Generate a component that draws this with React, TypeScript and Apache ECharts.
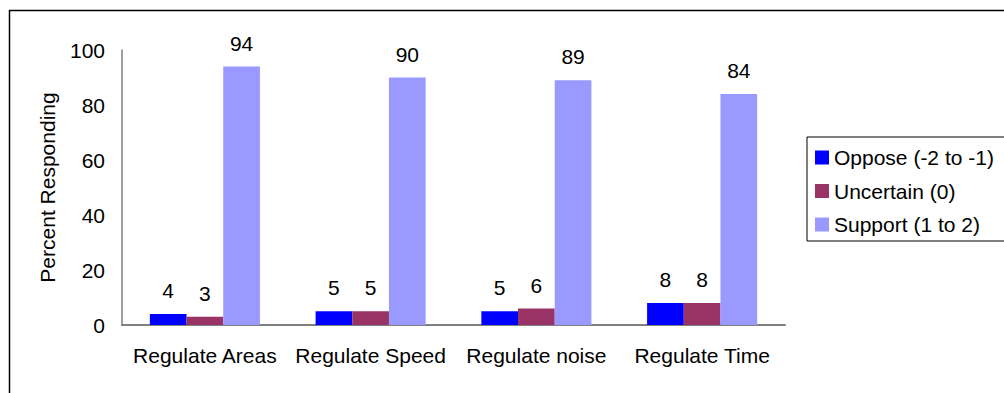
import React, { useEffect, useRef } from "react";
import * as echarts from "echarts";

const categories = ["Regulate Areas", "Regulate Speed", "Regulate noise", "Regulate Time"];
const opposeValues = [4, 5, 5, 8];
const uncertainValues = [3, 5, 6, 8];
const supportValues = [94, 90, 89, 84];
const seriesNames = ["Oppose (-2 to -1)", "Uncertain (0)", "Support (1 to 2)"];
const seriesColors = ["#0000FF", "#993366", "#9999FF"];

const FONT = "Liberation Sans, Arial, sans-serif";
const FONT_SIZE = 21;

export default function App() {
  const ref = useRef<HTMLDivElement>(null);

  useEffect(() => {
    if (!ref.current) return;
    const chart = echarts.init(ref.current, undefined, { renderer: "svg" });
    const values = [opposeValues, uncertainValues, supportValues];

    chart.setOption({
      animation: false,
      backgroundColor: "#ffffff",
      textStyle: { fontFamily: FONT, color: "#000" },
      grid: { left: 122, right: 219, top: 50, bottom: 68, containLabel: false },
      graphic: [
        {
          type: "rect",
          shape: { x: 9.5, y: 10.5, width: 1200, height: 600 },
          style: { fill: "none", stroke: "#000", lineWidth: 1.5 },
          silent: true,
        },
      ],
      legend: {
        orient: "vertical",
        left: 807,
        top: 137,
        padding: [10, 11, 6, 8],
        borderColor: "#000",
        borderWidth: 1,
        itemWidth: 14,
        itemHeight: 14,
        itemGap: 12.5,
        icon: "rect",
        data: seriesNames,
        textStyle: { fontFamily: FONT, fontSize: FONT_SIZE, color: "#000", lineHeight: 20 },
      },
      xAxis: {
        type: "category",
        data: categories,
        axisLine: { lineStyle: { color: "#808080", width: 2 } },
        axisTick: { show: false },
        axisLabel: { interval: 0, fontFamily: FONT, fontSize: FONT_SIZE, color: "#000", margin: 20 },
      },
      yAxis: {
        type: "value",
        min: 0,
        max: 100,
        interval: 20,
        name: "Percent Responding",
        nameLocation: "middle",
        nameGap: 64,
        nameTextStyle: { fontFamily: FONT, fontSize: FONT_SIZE, color: "#000" },
        axisLine: { show: true, lineStyle: { color: "#808080", width: 1.5 } },
        axisTick: { show: false },
        splitLine: { show: false },
        axisLabel: { fontFamily: FONT, fontSize: FONT_SIZE, color: "#000", margin: 17 },
      },
      series: seriesNames.map((name, i) => ({
        name,
        type: "bar",
        data: values[i],
        barGap: "0%",
        barCategoryGap: "33.6%",
        itemStyle: { color: seriesColors[i] },
        label: {
          show: true,
          position: "top",
          distance: 13,
          fontFamily: FONT,
          fontSize: FONT_SIZE,
          color: "#000",
        },
      })),
    });

    return () => chart.dispose();
  }, []);

  return (
    <div
      ref={ref}
      style={{ position: "fixed", left: 0, top: 0, width: 1004, height: 393 }}
    />
  );
}
